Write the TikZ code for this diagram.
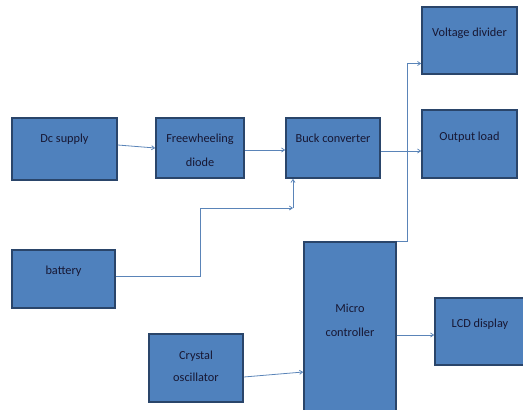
\documentclass[tikz,border=0pt]{standalone}
\usepackage{fontspec}
\setmainfont{Carlito}
\usepackage{tikz}
\usetikzlibrary{arrows.meta, positioning}
\definecolor{blockblue}{HTML}{4F81BD}
\definecolor{blockedge}{HTML}{2A456A}
\definecolor{wireblue}{HTML}{5A84B8}
\definecolor{textnavy}{HTML}{171733}

\begin{document}
\begin{tikzpicture}[
  x=1pt, y=-1pt,
  blk/.style={rectangle, draw=blockedge, fill=blockblue, line width=1.6pt,
              minimum width=#1, inner sep=0pt},
  txt/.style={anchor=north, align=center, inner sep=0pt, text=textnavy,
              font=\fontsize{12.3}{24}\selectfont},
  con/.style={-{Straight Barb[length=3pt,width=4pt]}, line width=0.8pt, color=wireblue},
]
\useasboundingbox (0,0) rectangle (523,410);

%% POWER PATH
\node[blk=105pt, minimum height=62pt, label={[txt, yshift=-17pt]north:Dc supply}]
  (dc) at (64.5,149) {};
\node[blk=88pt, minimum height=60pt, label={[txt, yshift=-17pt]north:Freewheeling\\diode}]
  (fwd) at (200,148) {};
\node[blk=94pt, minimum height=60pt, label={[txt, yshift=-17pt]north:Buck converter}]
  (buck) at (333,148) {};
\node[blk=103pt, minimum height=58pt, label={[txt, yshift=-17pt]north:battery}]
  (bat) at (63.5,279) {};

%% OUTPUTS
\node[blk=95pt, minimum height=67pt, label={[txt, yshift=-22pt]north:Voltage divider}]
  (vd) at (469.5,40.5) {};
\node[blk=95pt, minimum height=68pt, label={[txt, yshift=-23pt]north:Output load}]
  (load) at (469.5,144) {};

%% CONTROL
\node[blk=94pt, minimum height=68pt, label={[txt, yshift=-18pt, font=\fontsize{12.3}{22}\selectfont]north:Crystal\\oscillator}]
  (xtal) at (196,368) {};
\node[blk=92pt, minimum height=176pt, label={[txt, yshift=-63pt]north:Micro\\controller}]
  (mcu) at (350,330) {};
\node[blk=90pt, minimum height=67pt, label={[txt, yshift=-22pt]north:LCD display}]
  (lcd) at (480,331.5) {};

\coordinate (bj) at (293,208);

%% Connectors
\draw[con] ([yshift=4pt]dc.east) -- (fwd.west);
\draw[con] ([yshift=-2pt]fwd.east) -- ([yshift=-2pt]fwd.east -| buck.west);
\draw[con] ([yshift=-3pt]buck.east) -- ([yshift=-3pt]buck.east -| load.west);
\draw[con] ([yshift=3pt]bat.east) -- ++(85,0) |- (bj);
\draw[con] (bj) -- (bj |- buck.south);
\draw[con] (mcu.north east) -- ++(11,0) |- ([yshift=-23pt]vd.west);
\draw[con] ([yshift=-9pt]xtal.east) -- ([yshift=-42pt]mcu.west);
\draw[con] ([yshift=-5pt]mcu.east) -- ([yshift=-5pt]mcu.east -| lcd.west);

\end{tikzpicture}
\end{document}
